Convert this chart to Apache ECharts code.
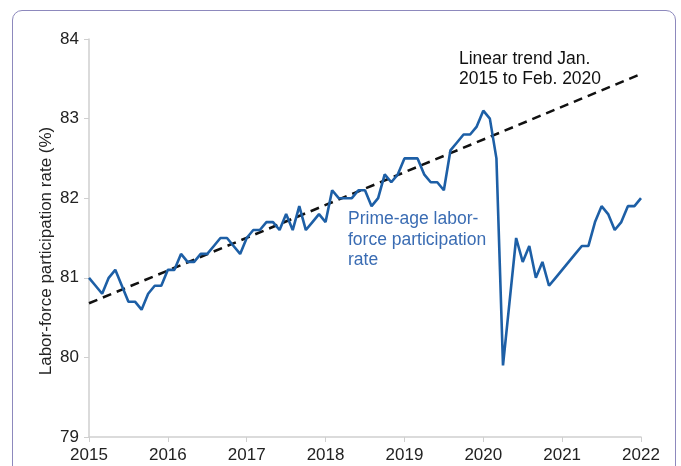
<!DOCTYPE html>
<html>
<head>
<meta charset="utf-8">
<script src="https://cdn.jsdelivr.net/npm/echarts@6/dist/echarts.min.js"></script>
<style>
  html, body { margin: 0; padding: 0; background: #fff; }
  .frame {
    position: absolute; left: 12px; top: 10px; width: 664px; height: 470px;
    border: 1.5px solid #8d89bd; border-radius: 10px; box-sizing: border-box;
  }
  #chart { position: absolute; left: 0; top: 0; width: 681px; height: 466px; }
</style>
</head>
<body>
<div class="frame"></div>
<div id="chart"></div>
<script>
// monthly, Jan 2015 .. Jan 2022
const startYear = 2015;
const rate = [
  81.0, 80.9, 80.8, 81.0, 81.1, 80.9, 80.7, 80.7, 80.6, 80.8, 80.9, 80.9, // 2015
  81.1, 81.1, 81.3, 81.2, 81.2, 81.3, 81.3, 81.4, 81.5, 81.5, 81.4, 81.3, // 2016
  81.5, 81.6, 81.6, 81.7, 81.7, 81.6, 81.8, 81.6, 81.9, 81.6, 81.7, 81.8, // 2017
  81.7, 82.1, 82.0, 82.0, 82.0, 82.1, 82.1, 81.9, 82.0, 82.3, 82.2, 82.3, // 2018
  82.5, 82.5, 82.5, 82.3, 82.2, 82.2, 82.1, 82.6, 82.7, 82.8, 82.8, 82.9, // 2019
  83.1, 83.0, 82.5, 79.9, 80.7, 81.5, 81.2, 81.4, 81.0, 81.2, 80.9, 81.0, // 2020
  81.1, 81.2, 81.3, 81.4, 81.4, 81.7, 81.9, 81.8, 81.6, 81.7, 81.9, 81.9, // 2021
  82.0                                                                    // 2022
];
// linear trend end points (Jan 2015, Jan 2022)
const trend = [80.68, 83.56];
const yTicks = [79, 80, 81, 82, 83, 84];

const months = rate.map((v, i) => String(startYear + Math.floor(i / 12)) + "-" + (i % 12 + 1));
const trendData = rate.map((v, i) => (i === 0 ? trend[0] : i === rate.length - 1 ? trend[1] : null));

const font = "'Liberation Sans', Arial, sans-serif";
const chart = echarts.init(document.getElementById("chart"));
chart.setOption({
  animation: false,
  grid: { left: 89, right: 40, top: 39, bottom: 29 },
  xAxis: {
    type: "category",
    data: months,
    boundaryGap: false,
    axisLine: { lineStyle: { color: "#cfcfcf", width: 1.5 } },
    axisTick: { interval: 11, length: 5, lineStyle: { color: "#cfcfcf" } },
    axisLabel: {
      interval: 11, color: "#222", fontSize: 17, fontFamily: font, margin: 10,
      formatter: v => v.split("-")[0]
    },
    splitLine: { show: false }
  },
  yAxis: {
    type: "value",
    min: yTicks[0], max: yTicks[yTicks.length - 1], interval: 1,
    axisLine: { show: true, lineStyle: { color: "#cfcfcf", width: 1.5 } },
    axisTick: { show: true, length: 5, lineStyle: { color: "#cfcfcf" } },
    axisLabel: { color: "#222", fontSize: 17, fontFamily: font, margin: 10 },
    splitLine: { show: false }
  },
  series: [
    {
      name: "Linear trend", type: "line", data: trendData, connectNulls: true,
      symbol: "none", z: 1,
      lineStyle: { color: "#111", width: 2.5, type: [9, 6] }
    },
    {
      name: "Prime-age", type: "line", data: rate, symbol: "none", z: 2,
      lineStyle: { color: "#1d5fa6", width: 2.6 }
    }
  ],
  graphic: [
    {
      type: "text", x: 46, y: 251, rotation: Math.PI / 2,
      style: {
        text: "Labor-force participation rate (%)", fill: "#222", fontSize: 17, fontFamily: font,
        align: "center", verticalAlign: "middle"
      }
    },
    {
      type: "text", left: 459, top: 49,
      style: { text: "Linear trend Jan.\n2015 to Feb. 2020", fill: "#111", fontSize: 17.5, fontFamily: font, lineHeight: 20 }
    },
    {
      type: "text", left: 348, top: 209,
      style: { text: "Prime-age labor-\nforce participation\nrate", fill: "#3a6cb3", fontSize: 17.5, fontFamily: font, lineHeight: 20.5 }
    }
  ]
});
</script>
</body>
</html>
